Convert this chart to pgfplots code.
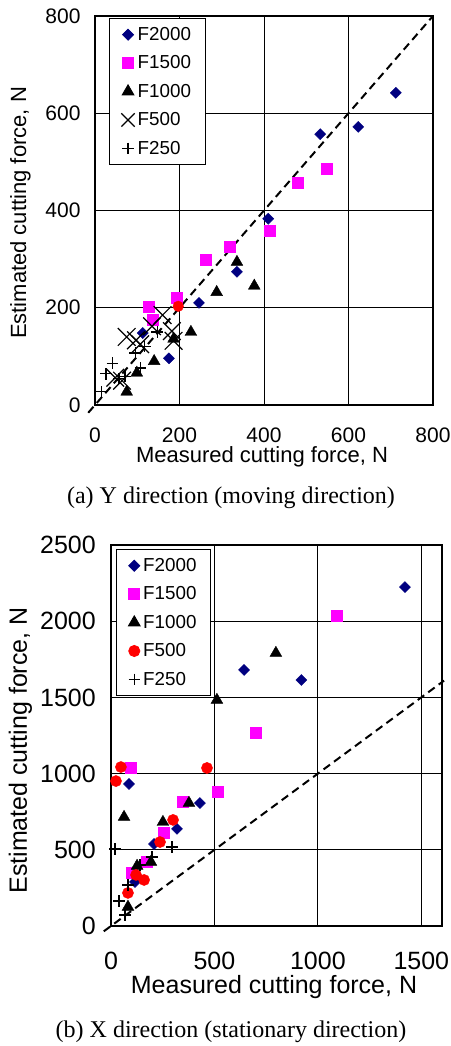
\documentclass[border=0pt]{standalone}
\usepackage{pgfplots}
\pgfplotsset{compat=1.18}
\usepackage{fontspec}
\setmainfont{Liberation Sans}
\newfontfamily\capfont{Liberation Serif}
\definecolor{navyc}{RGB}{0,0,128}
\definecolor{magc}{RGB}{255,0,255}
\definecolor{redc}{RGB}{255,0,0}
\pgfplotsset{
  common/.style={
    scale only axis, clip=false,
    axis line style={line width=2.5pt},
    grid=major, major grid style={black, line width=0.9pt},
    major tick length=0pt,
    /pgf/number format/assume math mode=true,
    /pgf/number format/1000 sep={},
    legend style={draw=black, line width=0.8pt, fill=white,
      font=\fontsize{18.8}{22}\selectfont, row sep=9.8pt, column sep=1pt,
      inner xsep=12pt, inner ysep=7pt, cells={anchor=west},
      nodes={inner sep=2pt},
      at={(0,1)}, anchor=north west},
  },
  pd/.style={only marks, mark=square*, mark options={rotate=45, fill=navyc, draw=navyc}, mark size=3.9pt, color=navyc},
  ps/.style={only marks, mark=square*, mark options={fill=magc, draw=magc}, mark size=5.5pt, color=magc},
  pt/.style={only marks, mark=triangle*, mark options={fill=black, draw=black}, mark size=6.8pt, color=black},
  pc/.style={only marks, mark=*, mark options={fill=redc, draw=redc}, mark size=5.6pt, color=redc},
  pp/.style={only marks, mark=+, mark options={line width=1.2pt, draw=black}, mark size=5.7pt, color=black},
  px/.style={only marks, mark=x, mark options={line width=1.2pt, draw=black}, color=black},
}
\begin{document}
\begin{tikzpicture}[x=1pt,y=1pt]
\path[use as bounding box] (0,0) rectangle (450,1046);
% ---------- (a) ----------
\begin{axis}[common,
  at={(95pt,641pt)}, anchor=south west, width=338pt, height=389pt,
  xmin=0, xmax=800, ymin=0, ymax=800,
  xtick={0,200,400,600,800}, ytick={0,200,400,600,800},
  ticklabel style={font=\fontsize{21}{24}\selectfont},
  xticklabel style={yshift=-19.7pt},
  yticklabel style={xshift=-11pt},
  legend style={xshift=14pt, yshift=-2pt},
]
\addplot[pd] coordinates {(712,642) (623,572) (533,557) (410,383) (336,274) (246,210) (175,96) (113,148)};
\addlegendentry{F2000}
\addplot[ps] coordinates {(549,485) (480,457) (414,358) (320,325) (262,298) (194,220) (126,202) (137,175)};
\addlegendentry{F1500}
\addplot[pt] coordinates {(336,294) (377,245) (288,232) (227,150) (186,136) (140,90) (99,66) (75,27)};
\addlegendentry{F1000}
\addlegendimage{px, mark size=9.4pt}
\addlegendentry{F500}
\addplot[pp] coordinates {(16,27) (26,64) (41,86) (57,55) (71,58) (95,107) (107,76) (118,120) (147,150)};
\addlegendentry{F250}
\addplot[px, mark size=12.5pt, forget plot] coordinates {(48,56) (64,50) (75,140) (97,133) (107,125) (135,162) (160,185) (182,152) (186,132)};
\addplot[pc, mark size=5.3pt, forget plot] coordinates {(197,203)};
\addplot[black, line width=2pt, dash pattern=on 8pt off 5pt, forget plot] coordinates {(-16,-16) (800,800)};
\end{axis}
% ---------- (b) ----------
\begin{axis}[common,
  at={(111pt,120pt)}, anchor=south west, width=331pt, height=381pt,
  xmin=0, xmax=1600, ymin=0, ymax=2500,
  xtick={0,500,1000,1500}, ytick={0,500,1000,1500,2000,2500},
  ticklabel style={font=\fontsize{25}{28}\selectfont},
  xticklabel style={yshift=-22.7pt},
  yticklabel style={xshift=-11.7pt},
  legend style={xshift=5pt, yshift=-4pt},
]
\addplot[pd] coordinates {(1421,2224) (920,1614) (643,1680) (430,807) (319,637) (208,538) (87,932) (116,289)};
\addlegendentry{F2000}
\addplot[ps] coordinates {(1092,2034) (701,1266) (97,1037) (517,879) (348,814) (256,610) (174,420) (101,348)};
\addlegendentry{F1500}
\addplot[pt] coordinates {(512,1483) (797,1791) (63,715) (251,682) (377,807) (193,420) (126,394) (82,125)};
\addlegendentry{F1000}
\addplot[pc] coordinates {(48,1043) (464,1037) (24,951) (300,696) (237,551) (160,302) (121,335) (82,217)};
\addlegendentry{F500}
\addplot[pp] coordinates {(19,505) (295,518) (198,453) (140,400) (82,269) (39,164) (68,72)};
\addlegendentry{F250}
\addplot[black, line width=2pt, dash pattern=on 8pt off 5pt, forget plot] coordinates {(-35,-35) (1610,1610)};
\end{axis}
% ---------- labels ----------
\node[anchor=base, font=\fontsize{22}{26}\selectfont] at (262,583) {Measured cutting force, N};
\node[anchor=base, rotate=90, font=\fontsize{22}{26}\selectfont] at (26,833) {Estimated cutting force, N};
\node[anchor=base, font=\fontsize{25}{30}\selectfont] at (274,52) {Measured cutting force, N};
\node[anchor=base, rotate=90, font=\fontsize{25}{30}\selectfont] at (27,295.5) {Estimated cutting force, N};
\node[anchor=base, font=\capfont\fontsize{24}{28}\selectfont] at (231,542.7) {(a) Y direction (moving direction)};
\node[anchor=base, font=\capfont\fontsize{24}{28}\selectfont] at (231,8.3) {(b) X direction (stationary direction)};
\end{tikzpicture}
\end{document}
